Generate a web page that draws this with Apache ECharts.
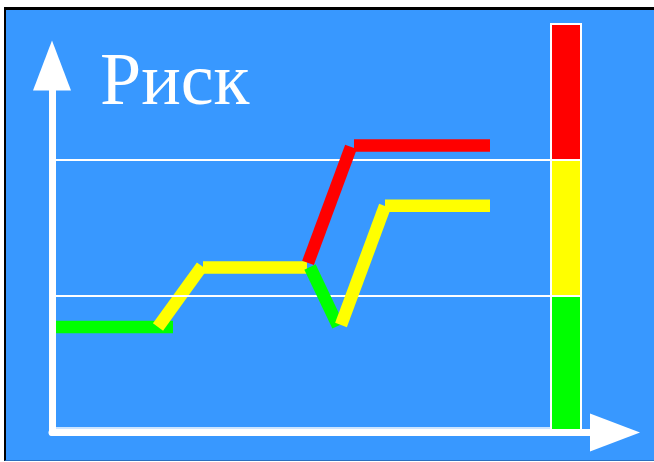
<!DOCTYPE html>
<html>
<head>
<meta charset="utf-8">
<script src="https://cdn.jsdelivr.net/npm/echarts@6/dist/echarts.min.js"></script>
<style>
  html, body { margin: 0; padding: 0; background: #ffffff; }
  #frame { position: absolute; left: 4px; top: 7px; width: 650px; height: 454px;
           background: #3898ff; border-top: 3px solid #000; border-left: 2px solid #000;
           border-bottom: 1px solid #2a6fc0; box-sizing: border-box; }
  #chart { position: absolute; left: 0; top: 0; width: 654px; height: 462px; }
</style>
</head>
<body>
<div id="frame"></div>
<div id="chart"></div>
<script>
// Title
const titleText = 'Риск';

// Zone levels (risk scale 0..3): green 0-1, yellow 1-2, red 2-3
const zoneBounds = [0, 1, 2, 3];
const zoneColors = ['#00ff00', '#ffff00', '#ff0000'];
const gridLevels = [1, 2];

// Risk trajectory segments [x, y]
const segGreen1  = [[0, 0.772], [24.2, 0.772]];
const segYellow1 = [[21.2, 0.772], [30.0, 1.22]];
const segYellow2 = [[30.2, 1.21], [51.0, 1.21]];
const segRed1    = [[51.2, 1.243], [59.8, 2.096]];
const segGreen2  = [[51.6, 1.213], [57.2, 0.78]];
const segYellow3 = [[57.8, 0.787], [66.6, 1.662]];
const segRed2    = [[60.4, 2.107], [87.6, 2.107]];
const segYellow4 = [[66.6, 1.664], [87.6, 1.664]];

const segments = [
  { data: segGreen1,  color: '#00ff00' },
  { data: segYellow1, color: '#ffff00' },
  { data: segYellow2, color: '#ffff00' },
  { data: segRed1,    color: '#ff0000' },
  { data: segGreen2,  color: '#00ff00' },
  { data: segYellow3, color: '#ffff00' },
  { data: segRed2,    color: '#ff0000' },
  { data: segYellow4, color: '#ffff00' }
];

// Scale bar position on x axis
const barX = [99.8, 105.8];

const chart = echarts.init(document.getElementById('chart'), null, { renderer: 'canvas' });

const markAreaData = zoneColors.map((c, i) => [
  { xAxis: barX[0], yAxis: zoneBounds[i], itemStyle: { color: c, borderColor: '#ffffff', borderWidth: 2 } },
  { xAxis: barX[1], yAxis: zoneBounds[i + 1] }
]);

const series = [{
  type: 'line',
  xAxisIndex: 0, yAxisIndex: 0,
  data: [],
  z: 1,
  silent: true,
  markLine: {
    silent: true,
    symbol: 'none',
    label: { show: false },
    lineStyle: { color: '#ffffff', width: 2, type: 'solid' },
    data: gridLevels.map(v => ({ yAxis: v })).concat([
      [{ coord: [0.8, 0.03], lineStyle: { width: 1.5 } }, { coord: [99.6, 0.03] }]
    ])
  },
  markArea: { silent: true, data: markAreaData }
}];

segments.forEach((s, i) => {
  series.push({
    type: 'line',
    xAxisIndex: 0, yAxisIndex: 0,
    data: s.data,
    symbol: 'none',
    silent: true,
    z: 3 + i,
    animation: false,
    lineStyle: { color: s.color, width: 12.5, cap: 'butt', join: 'miter' }
  });
});

// Arrow axes (grid 1)
series.push({ type: 'line', xAxisIndex: 1, yAxisIndex: 1, data: [], silent: true });

const hidden = { show: false };
const option = {
  animation: false,
  backgroundColor: 'transparent',
  title: {
    text: titleText,
    left: 95, top: 43,
    textStyle: { color: '#ffffff', fontFamily: 'Liberation Serif', fontSize: 74, fontWeight: 'normal' }
  },
  grid: [
    { left: 52, right: 72, top: 24, bottom: 30 },
    { left: 52, right: 39, top: 65.5, bottom: 29.5, z: 10 }
  ],
  xAxis: [
    { type: 'value', gridIndex: 0, min: 0, max: 106, axisLine: hidden, axisTick: hidden, axisLabel: hidden, splitLine: hidden },
    { type: 'value', gridIndex: 1, min: 0, max: 1, axisTick: hidden, axisLabel: hidden, splitLine: hidden, z: 10,
      axisLine: { show: true, onZero: false, symbol: ['none', 'triangle'], symbolSize: [38, 50],
                  lineStyle: { color: '#ffffff', width: 7 } } }
  ],
  yAxis: [
    { type: 'value', gridIndex: 0, min: 0, max: 3, axisLine: hidden, axisTick: hidden, axisLabel: hidden, splitLine: hidden },
    { type: 'value', gridIndex: 1, min: 0, max: 1, axisTick: hidden, axisLabel: hidden, splitLine: hidden, z: 10,
      axisLine: { show: true, onZero: false, symbol: ['none', 'triangle'], symbolSize: [38, 50],
                  lineStyle: { color: '#ffffff', width: 7 } } }
  ],
  series: series
};
chart.setOption(option);
</script>
</body>
</html>
